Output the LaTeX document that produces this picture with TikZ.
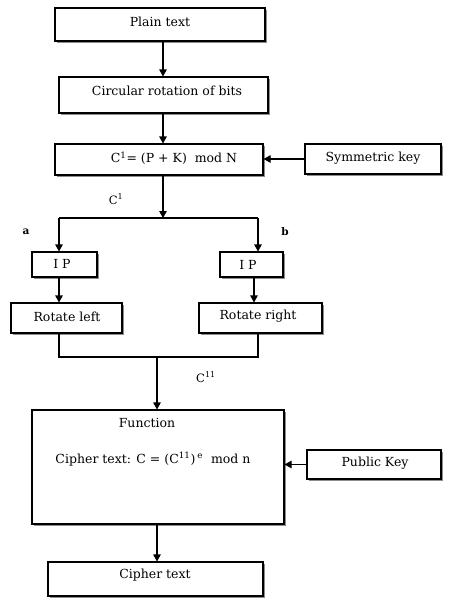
\documentclass[tikz,border=0pt]{standalone}
\usepackage{fontspec}
\setmainfont{DejaVu Serif}
\usetikzlibrary{arrows.meta,shadows}
\begin{document}
\begin{tikzpicture}[x=1pt,y=-1pt,
  box/.style={draw=black,line width=1.1pt,fill=white,rectangle,inner sep=0pt,
    drop shadow={shadow xshift=1.6pt,shadow yshift=-1.6pt,fill=black!45,opacity=1}},
  arr/.style={line width=1.1pt,-{Triangle[length=7pt,width=7.5pt]}},
  ln/.style={line width=1.1pt},
  txt/.style={font=\fontsize{12.5}{14}\selectfont},
  lab/.style={font=\fontsize{11.5}{13}\selectfont}]
\useasboundingbox[fill=white] (0,0) rectangle (457,611);
% boxes
\node[box,minimum width=210pt,minimum height=33pt] (plain) at (160,24.5) {};
\node[txt] (plaint) at (160,22) {Plain text};
\node[box,minimum width=209pt,minimum height=36pt] (circ) at (163.5,95) {};
\node[txt] (circt) at (167,91) {Circular rotation of bits};
\node[box,minimum width=208pt,minimum height=31pt] (ck) at (159,159.5) {};
\node[txt] (ckt) at (174,158) {C\textsuperscript{1}= (P + K)\ \ mod N};
\node[box,minimum width=136pt,minimum height=30pt] (sk) at (373,159) {};
\node[txt] (skt) at (373,158) {Symmetric key};
\node[box,minimum width=65pt,minimum height=25pt] (ipl) at (64.5,264.5) {};
\node[txt] (iplt) at (62,264) {I P};
\node[box,minimum width=63pt,minimum height=25pt] (ipr) at (251.5,264.5) {};
\node[txt] (iprt) at (248,265) {I P};
\node[box,minimum width=111pt,minimum height=30pt] (rl) at (66.5,318) {};
\node[txt] (rlt) at (67,316.5) {Rotate left};
\node[box,minimum width=123pt,minimum height=30pt] (rr) at (260.5,318) {};
\node[txt] (rrt) at (258,316.5) {Rotate right};
\node[box,minimum width=252pt,minimum height=114pt] (fn) at (158,467) {};
\node[txt] (fnt) at (147,423) {Function};
\node[txt] (fnc) at (153,459) {Cipher text: C = (C\textsuperscript{11})\,\textsuperscript{e}\ \ mod n};
\node[box,minimum width=134pt,minimum height=29pt] (pk) at (374,464.5) {};
\node[txt] (pkt) at (375,463) {Public Key};
\node[box,minimum width=215pt,minimum height=34pt] (ct) at (155.5,579) {};
\node[txt] (ctt) at (155,575) {Cipher text};
% labels
\node[lab] (c1) at (116,199) {C\textsuperscript{1}};
\node[lab] (c11) at (206,377) {C\textsuperscript{11}};
\node[font=\bfseries\fontsize{10.5}{12}\selectfont] (la) at (26,232) {a};
\node[font=\bfseries\fontsize{10.5}{12}\selectfont] (lb) at (285,232) {b};
% coordinates
\coordinate (mx) at (163,0);
\coordinate (j1) at (163,218);
\coordinate (jl) at (59,218);
\coordinate (jr) at (258,218);
\coordinate (j2) at (157,357);
% connectors
\draw[arr] (plain.south -| mx) -- (circ.north -| mx);
\draw[arr] (circ.south -| mx) -- (ck.north -| mx);
\draw[arr] (ck.south -| mx) -- (j1);
\draw[arr] (sk.west) -- (sk.west -| ck.east);
\draw[ln] (jl) -- (jr);
\draw[arr] (jl) -- (jl |- ipl.north);
\draw[arr] (jr) -- (jr |- ipr.north);
\draw[arr] (ipl.south -| jl) -- (rl.north -| jl);
\draw[arr] (ipr.south -| 254,0) -- (rr.north -| 254,0);
\draw[ln] (rl.south -| jl) -- (jl |- j2) -- (jr |- j2) -- (rr.south -| jr);
\draw[arr] (j2) -- (fn.north -| j2);
\draw[arr] (pk.west) -- (pk.west -| fn.east);
\draw[arr] (fn.south -| j2) -- (ct.north -| j2);
\end{tikzpicture}
\end{document}
